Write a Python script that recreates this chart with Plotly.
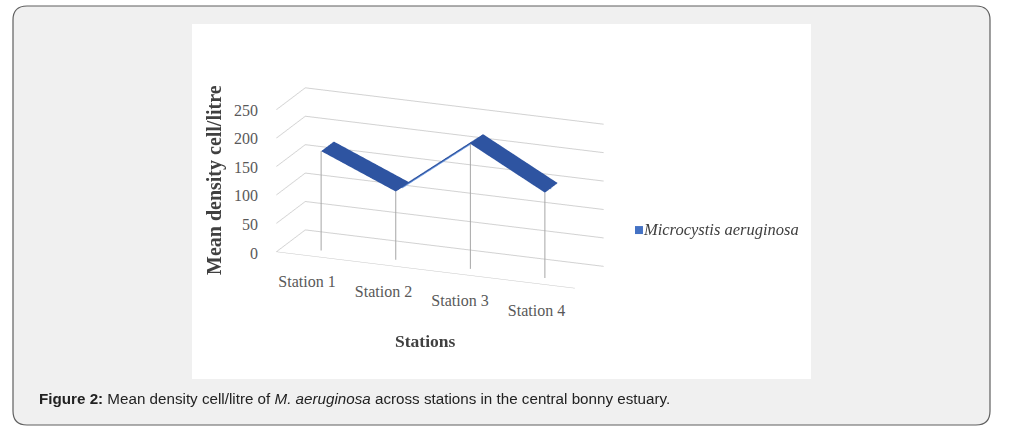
import plotly.graph_objects as go

# values
stations = ["Station 1", "Station 2", "Station 3", "Station 4"]
density = [175, 120, 220, 150]
z_ticks = [0, 50, 100, 150, 200, 250]
series_name = "Microcystis aeruginosa"

W, H = 1014, 434


def px(x):
    return x / W


def py(y):
    return 1 - y / H


# ribbon (excel style 3d line) built from the values
pos = list(range(len(stations)))
y_front, y_back = 0.26, 0.70
vx, vy, vz = [], [], []
for i, v in zip(pos, density):
    vx += [i, i]
    vy += [y_front, y_back]
    vz += [v, v]
ti, tj, tk = [], [], []
for i in range(len(pos) - 1):
    a, b, c, d = 2 * i, 2 * i + 1, 2 * i + 3, 2 * i + 2
    ti += [a, a]
    tj += [b, c]
    tk += [c, d]

# drop lines from each point to the floor
dx, dy, dz = [], [], []
for i, v in zip(pos, density):
    dx += [i, i, None]
    dy += [y_front, y_front, None]
    dz += [v, 0, None]

fig = go.Figure()
fig.add_trace(go.Scatter3d(x=dx, y=dy, z=dz, mode="lines",
                           line=dict(color="#a6a6a6", width=2),
                           hoverinfo="skip", showlegend=False))
# thin edge of the ribbon, only seen where it turns side-on
fig.add_trace(go.Scatter3d(x=pos, y=[(y_front + y_back) / 2] * len(pos),
                           z=[v - 2 for v in density], mode="lines",
                           line=dict(color="#6f9be0", width=2),
                           hoverinfo="skip", showlegend=False))
fig.add_trace(go.Mesh3d(x=vx, y=vy, z=vz, i=ti, j=tj, k=tk,
                        color="#2e54a1", flatshading=True,
                        lighting=dict(ambient=1, diffuse=0, specular=0, fresnel=0),
                        hoverinfo="skip", showlegend=False))

# category labels, stepped down along the sloping front edge like excel does
label_font = dict(family="Liberation Serif", size=16, color="#595959")
fig.add_trace(go.Scatter(x=pos, y=pos, mode="text", text=stations,
                         textposition="middle center", textfont=label_font,
                         cliponaxis=False, hoverinfo="skip", showlegend=False))
# value axis labels along the front-left edge
fig.add_trace(go.Scatter(x=[None], y=[None], yaxis="y2", mode="markers",
                         hoverinfo="skip", showlegend=False))

axis_common = dict(showbackground=False, showspikes=False, title=dict(text=""),
                   zeroline=False, showticklabels=False, ticks="")
k = 1.71  # overall size of the box
fig.update_layout(
    width=W, height=H,
    margin=dict(l=0, r=0, t=0, b=0, autoexpand=False),
    paper_bgcolor="white",
    plot_bgcolor="rgba(0,0,0,0)",
    showlegend=False,
    xaxis=dict(domain=[px(268.75), px(574.75)], range=[-0.5, 3.5], visible=False,
               fixedrange=True, automargin=False),
    yaxis=dict(domain=[py(312), py(283)], range=[3, 0], visible=False,
               fixedrange=True, automargin=False),
    yaxis2=dict(domain=[py(253), py(110)], range=[0, 250], tickvals=z_ticks,
                anchor="free", position=px(258), side="left",
                showline=False, showgrid=False, zeroline=False, ticks="",
                tickfont=label_font, fixedrange=True, automargin=False),
    scene=dict(
        domain=dict(x=[0, px(880)], y=[py(376), 1]),
        bgcolor="rgba(0,0,0,0)",
        xaxis=dict(axis_common, range=[-0.5, 3.5], tickvals=pos,
                   showgrid=False, showline=True, linecolor="#c8c8c8"),
        yaxis=dict(axis_common, range=[0, 1], showgrid=False, showline=False),
        zaxis=dict(axis_common, range=[0, 250], tickvals=z_ticks, showgrid=True,
                   gridcolor="#d2d2d2", gridwidth=2, showline=False),
        aspectmode="manual",
        aspectratio=dict(x=1 * k, y=0.241 * k, z=0.464 * k),
        camera=dict(eye=dict(x=0.355 * 2, y=-0.884 * 2, z=0.304 * 2),
                    center=dict(x=0, y=0, z=0),
                    projection=dict(type="orthographic")),
    ),
)

# figure panel and white chart area
r = 14
x0, y0, x1, y1 = px(13), py(6), px(990), py(425)
rx, ry = r / W, r / H
panel = (f"M {x0 + rx},{y0} L {x1 - rx},{y0} Q {x1},{y0} {x1},{y0 - ry} "
         f"L {x1},{y1 + ry} Q {x1},{y1} {x1 - rx},{y1} L {x0 + rx},{y1} "
         f"Q {x0},{y1} {x0},{y1 + ry} L {x0},{y0 - ry} Q {x0},{y0} {x0 + rx},{y0} Z")
fig.add_shape(type="path", path=panel, xref="paper", yref="paper", layer="below",
              fillcolor="#f0f0f0", line=dict(color="#5f5f5f", width=1.2))
fig.add_shape(type="rect", xref="paper", yref="paper", layer="below",
              x0=px(192), x1=px(811), y0=py(379), y1=py(24),
              fillcolor="white", line=dict(width=0))

fig.add_annotation(x=px(214), y=py(180), xref="paper", yref="paper",
                   xanchor="center", yanchor="middle",
                   text="<b>Mean density cell/litre</b>", textangle=-90,
                   showarrow=False,
                   font=dict(family="Liberation Serif", size=20, color="#404040"))
fig.add_annotation(x=px(425), y=py(341), xref="paper", yref="paper",
                   xanchor="center", yanchor="middle",
                   text="<b>Stations</b>", showarrow=False,
                   font=dict(family="Liberation Serif", size=17.5, color="#404040"))
# legend: series swatch and name
fig.add_annotation(x=px(632), y=py(229), xref="paper", yref="paper",
                   xanchor="left", yanchor="middle", showarrow=False,
                   text=f"<span style='color:#4472c4'>■</span><i>{series_name}</i>",
                   font=dict(family="Liberation Serif", size=16.5, color="#404040"))
fig.add_annotation(x=px(37), y=py(398), xref="paper", yref="paper",
                   xanchor="left", yanchor="middle",
                   text="<b>Figure 2:</b> Mean density cell/litre of <i>M. aeruginosa</i> "
                        "across stations in the central bonny estuary.",
                   showarrow=False,
                   font=dict(family="Liberation Sans", size=15.2, color="#222222"))

fig.write_html("out.html", config={"displayModeBar": False},
               post_script="document.body.style.margin='0';")
